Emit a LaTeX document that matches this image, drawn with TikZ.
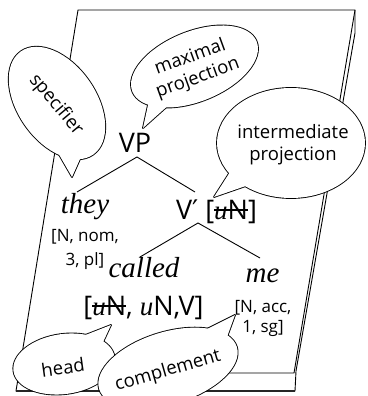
\documentclass[tikz,border=0pt]{standalone}
\usepackage{fontspec}
\setmainfont{Open Sans}
\newfontfamily\timesfont{Liberation Serif}
\newfontfamily\primefont{DejaVu Sans}
\usetikzlibrary{calc}
\newsavebox\xstrikebox
\newcommand\xstrike[1]{\sbox\xstrikebox{#1}\rlap{\rule[0.33em]{\wd\xstrikebox}{0.07em}}\usebox\xstrikebox}
\newcommand\iu{{\timesfont\itshape u}}
\newcommand\vprime{{\primefont ′}}
% #1 cx, #2 cy, #3 a, #4 b, #5 rotation, #6 tip, #7 base a, #8 base b
\newcommand\bubble[8]{%
  \draw[bubline, rotate around={#5:(#1,#2)}] (#1,#2) ellipse [x radius=#3, y radius=#4];
  \draw[bubline] ($(#6)!1.6!(#7)$) -- (#6) -- ($(#6)!1.6!(#8)$) -- cycle;
  \fill[white, rotate around={#5:(#1,#2)}] (#1,#2) ellipse [x radius=#3, y radius=#4];
  \fill[white] ($(#6)!1.6!(#7)$) -- (#6) -- ($(#6)!1.6!(#8)$) -- cycle;
}
\tikzset{
  paper/.style={line width=0.9pt, line join=miter},
  paperbase/.style={line width=1.6pt, black!85},
  branch/.style={line width=0.9pt},
  cat/.style={font=\fontsize{27}{30}\selectfont, inner sep=0pt},
  word/.style={font=\timesfont\itshape\fontsize{29}{32}\selectfont, inner sep=0pt},
  feat/.style={font=\fontsize{17}{24}\selectfont, align=center, inner sep=0pt},
  bubtext/.style={font=\fontsize{18.5}{22}\selectfont, align=center, inner sep=0pt},
  bubline/.style={line width=1.8pt, line join=round},
}
\begin{document}
\begin{tikzpicture}[x=1pt,y=1pt]
\useasboundingbox (0,0) rectangle (367,396);
\clip (0,0) rectangle (367,396);
% paper
\draw[paper] (78,386) -- (355,386) -- (355,363) -- (296,25) -- (295,5) -- (16,5) -- cycle;
\draw[paper] (355,386) -- (294,23) -- (19,23);
\draw[paperbase] (16,5) -- (295,5);
% tree
\node[cat, anchor=base] (vp) at (135,243) {VP};
\node[word, anchor=base] (they) at (85,182) {they};
\node[feat] (theyf) at (85,147) {[N, nom,\\3, pl]};
\node[cat, anchor=base] (vbar) at (216.5,176) {V\vprime\ [\xstrike{\iu N}]};
\node[word, anchor=base] (called) at (144,118) {called};
\node[cat, anchor=base] (calledf) at (143.5,80) {[\xstrike{\iu N}, \iu N,V]};
\node[word, anchor=base] (me) at (262.5,113) {me};
\node[feat, font=\fontsize{17}{20}\selectfont] (mef) at (263,78) {[N, acc,\\1, sg]};
\coordinate (vpfoot) at (137,239);
\coordinate (theytop) at (77,204);
\coordinate (vbartop) at (195,204);
\coordinate (vbarfoot) at (198,173);
\coordinate (calledtop) at (140,139);
\coordinate (metop) at (260,138);
\draw[branch] (theytop) -- (vpfoot) -- (vbartop);
\draw[branch] (calledtop) -- (vbarfoot) -- (metop);
% bubbles
\coordinate (spt) at (72,219);
\coordinate (spa) at (57,245);
\coordinate (spb) at (80,237);
\bubble{57}{293}{63}{39}{-55}{spt}{spa}{spb}
\node[bubtext, rotate=-50] (spec) at (56,291) {specifier};
\coordinate (mxt) at (143,268);
\coordinate (mxa) at (148,291);
\coordinate (mxb) at (162,285);
\bubble{194.5}{329.5}{67}{35}{22}{mxt}{mxa}{mxb}
\node[bubtext, rotate=20] (maxp) at (194,328) {maximal\\projection};
\coordinate (imt) at (214,199);
\coordinate (ima) at (230,224);
\coordinate (imb) at (240,208);
\bubble{291}{253}{74}{55}{0}{imt}{ima}{imb}
\node[bubtext] (interp) at (293,251) {intermediate\\projection};
\coordinate (hdt) at (111,71);
\coordinate (hda) at (88,62);
\coordinate (hdb) at (104,56);
\bubble{64}{32}{51}{30}{8}{hdt}{hda}{hdb}
\node[bubtext, rotate=8] (head) at (63,28.5) {head};
\coordinate (cmt) at (235,81);
\coordinate (cma) at (205,66);
\coordinate (cmb) at (227,59);
\bubble{168}{28}{72}{36}{17}{cmt}{cma}{cmb}
\node[bubtext, rotate=16] (comp) at (168,25) {complement};
\end{tikzpicture}
\end{document}
